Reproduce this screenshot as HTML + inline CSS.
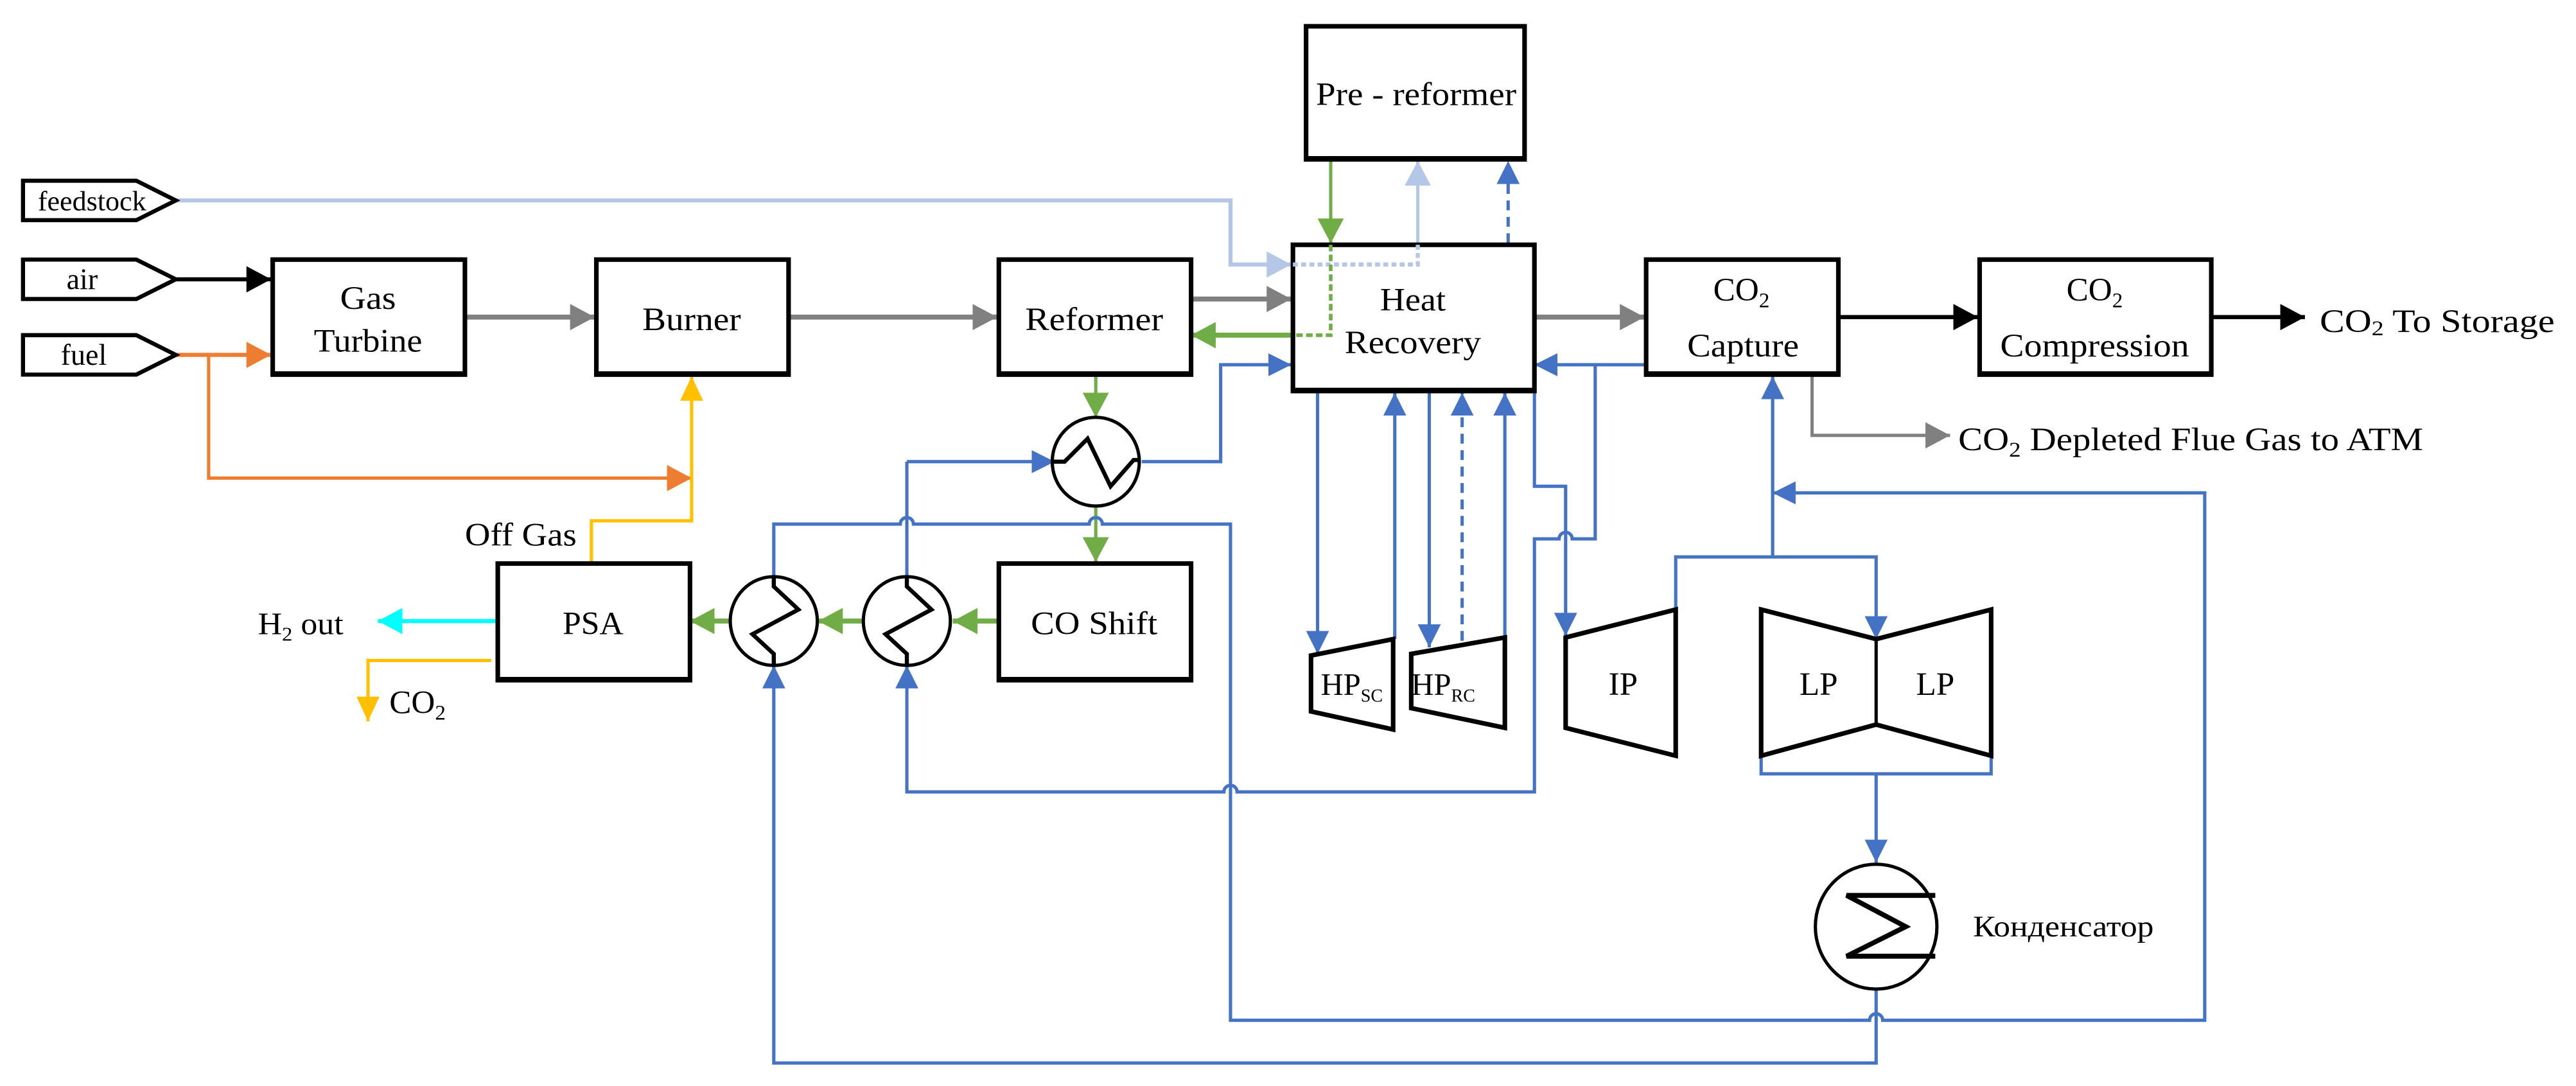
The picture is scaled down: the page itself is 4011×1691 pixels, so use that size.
<!DOCTYPE html>
<html><head><meta charset="utf-8"><style>html,body{margin:0;padding:0;background:#fff}svg{display:block}</style></head>
<body>
<svg width="4011" height="1691" viewBox="0 0 1568 661" preserveAspectRatio="none" xmlns="http://www.w3.org/2000/svg" font-family="'Liberation Serif', serif" font-size="19">
<defs>
<marker id="aB" markerUnits="userSpaceOnUse" markerWidth="14" markerHeight="14" refX="14" refY="7" orient="auto"><path d="M0,0 L14,7 L0,14 z" fill="#4472C4"/></marker>
<marker id="aG" markerUnits="userSpaceOnUse" markerWidth="15" markerHeight="16" refX="15" refY="8" orient="auto"><path d="M0,0 L15,8 L0,16 z" fill="#70AD47"/></marker>
<marker id="aGr" markerUnits="userSpaceOnUse" markerWidth="15" markerHeight="16" refX="15" refY="8" orient="auto"><path d="M0,0 L15,8 L0,16 z" fill="#808080"/></marker>
<marker id="aK" markerUnits="userSpaceOnUse" markerWidth="15" markerHeight="16" refX="15" refY="8" orient="auto"><path d="M0,0 L15,8 L0,16 z" fill="#000"/></marker>
<marker id="aO" markerUnits="userSpaceOnUse" markerWidth="15" markerHeight="16" refX="15" refY="8" orient="auto"><path d="M0,0 L15,8 L0,16 z" fill="#ED7D31"/></marker>
<marker id="aY" markerUnits="userSpaceOnUse" markerWidth="15" markerHeight="14" refX="15" refY="7" orient="auto"><path d="M0,0 L15,7 L0,14 z" fill="#FFC000"/></marker>
<marker id="aL" markerUnits="userSpaceOnUse" markerWidth="15" markerHeight="16" refX="15" refY="8" orient="auto"><path d="M0,0 L15,8 L0,16 z" fill="#B4C7E7"/></marker>
<marker id="aC" markerUnits="userSpaceOnUse" markerWidth="15" markerHeight="16" refX="15" refY="8" orient="auto"><path d="M0,0 L15,8 L0,16 z" fill="#00FFFF"/></marker>
</defs>

<path d="M107,122 H749 V161 H786" fill="none" stroke="#B4C7E7" stroke-width="2.5" marker-end="url(#aL)"/>
<path d="M863,148 V98" fill="none" stroke="#B4C7E7" stroke-width="2" marker-end="url(#aL)"/>

<path d="M107,170 H165" stroke="#000" stroke-width="2.5" marker-end="url(#aK)"/>
<path d="M1119,193 H1204" stroke="#000" stroke-width="2.5" marker-end="url(#aK)"/>
<path d="M1346,193 H1403" stroke="#000" stroke-width="2.5" marker-end="url(#aK)"/>

<path d="M107,216 H165" stroke="#ED7D31" stroke-width="2.5" marker-end="url(#aO)"/>
<path d="M127,216 V291 H421" fill="none" stroke="#ED7D31" stroke-width="2" marker-end="url(#aO)"/>

<path d="M283,193 H362" stroke="#808080" stroke-width="3" marker-end="url(#aGr)"/>
<path d="M480,193 H607" stroke="#808080" stroke-width="3" marker-end="url(#aGr)"/>
<path d="M725,182 H786" stroke="#808080" stroke-width="3" marker-end="url(#aGr)"/>
<path d="M934,193 H1001" stroke="#808080" stroke-width="3" marker-end="url(#aGr)"/>
<path d="M1103,229 V265 H1187" fill="none" stroke="#808080" stroke-width="2" marker-end="url(#aGr)"/>

<path d="M360,342 V317 H421 V229" fill="none" stroke="#FFC000" stroke-width="2" marker-end="url(#aY)"/>
<path d="M299,402 H224 V439" fill="none" stroke="#FFC000" stroke-width="2" marker-end="url(#aY)"/>
<path d="M302,378 H230" stroke="#00FFFF" stroke-width="2.5" marker-end="url(#aC)"/>

<path d="M810,98 V148" stroke="#70AD47" stroke-width="2" marker-end="url(#aG)"/>
<path d="M786,204 H725" stroke="#70AD47" stroke-width="3" marker-end="url(#aG)"/>
<path d="M667,229 V254" stroke="#70AD47" stroke-width="2" marker-end="url(#aG)"/>
<path d="M667,308 V342" stroke="#70AD47" stroke-width="2" marker-end="url(#aG)"/>
<path d="M607,378 H580" stroke="#70AD47" stroke-width="3" marker-end="url(#aG)"/>
<path d="M525,378 H498" stroke="#70AD47" stroke-width="3" marker-end="url(#aG)"/>
<path d="M444,378 H420" stroke="#70AD47" stroke-width="3" marker-end="url(#aG)"/>

<g fill="none" stroke="#4472C4" stroke-width="2">
<path d="M552,281 H642" marker-end="url(#aB)"/>
<path d="M695,281 H743 V222 H786" marker-end="url(#aB)"/>
<path d="M1001,222 H934" marker-end="url(#aB)"/>
<path d="M552,351 V281"/>
<path d="M971,222 V328 H957 a4,4 0 0 0 -8,0 H934 V482 H753 a4,4 0 0 0 -8,0 H552 V405" marker-end="url(#aB)"/>
<path d="M471,351 V319 H548 a4,4 0 0 1 8,0 H663 a4,4 0 0 1 8,0 H749 V621 H1138 a4,4 0 0 1 8,0 H1342 V300 H1079" marker-end="url(#aB)"/>
<path d="M1142,602 V647 H471 V405" marker-end="url(#aB)"/>
<path d="M1079,339 V229" marker-end="url(#aB)"/>
<path d="M1020,371 V339 H1142 V389" marker-end="url(#aB)"/>
<path d="M1072,460 V471 H1212 V460"/>
<path d="M1142,471 V525" marker-end="url(#aB)"/>
<path d="M802,239 V398" marker-end="url(#aB)"/>
<path d="M849,389 V239" marker-end="url(#aB)"/>
<path d="M870,239 V394" marker-end="url(#aB)"/>
<path d="M890,390 V239" stroke-dasharray="6,4" marker-end="url(#aB)"/>
<path d="M916,388 V239" marker-end="url(#aB)"/>
<path d="M934,239 V296 H953 V387" marker-end="url(#aB)"/>
<path d="M918,148 V98" stroke-dasharray="6,4" marker-end="url(#aB)"/>
</g>

<g fill="#fff" stroke="#000" stroke-width="2.5">
<path d="M14,110 H83 L107,122 L83,134 H14 Z"/>
<path d="M14,158 H83 L107,170 L83,182 H14 Z"/>
<path d="M14,204 H83 L107,216 L83,228 H14 Z"/>
</g>

<g fill="#fff" stroke="#000" stroke-width="2.8">
<rect x="166" y="158" width="117" height="70"/>
<rect x="363" y="158" width="117" height="70"/>
<rect x="608" y="158" width="117" height="70"/>
<rect x="795" y="16" width="133" height="81"/>
<rect x="787" y="149" width="147" height="89"/>
<rect x="1002" y="158" width="117" height="70"/>
<rect x="1205" y="158" width="141" height="70"/>
<rect x="303" y="343" width="117" height="71"/>
<rect x="608" y="343" width="117" height="71"/>
</g>
<!-- thicker bottom edges -->
<g stroke="#000" stroke-width="2">
<path d="M166,227 H283 M363,227 H480 M608,227 H725 M795,96 H928 M787,237 H934 M1002,227 H1119 M1205,227 H1346 M303,413 H420 M608,413 H725"/>
</g>
<path d="M787,161 H863 V149" fill="none" stroke="#B4C7E7" stroke-width="2.5" stroke-dasharray="3,2"/>
<path d="M810,149 V204 H788" fill="none" stroke="#70AD47" stroke-width="2.2" stroke-dasharray="4,2"/>

<g fill="#fff" stroke="#000" stroke-width="2">
<ellipse cx="667" cy="281" rx="26.5" ry="27"/>
<ellipse cx="471" cy="378" rx="26.5" ry="27"/>
<ellipse cx="552" cy="378" rx="26.5" ry="27"/>
<ellipse cx="1142" cy="564" rx="37" ry="38"/>
</g>
<g fill="none" stroke="#000" stroke-width="2.5">
<path d="M641,281 H648 L662,267 L676,296 L690,280 H694"/>
<path d="M471,352 V357 L486,371 L458,386 L471,398 V404"/>
<path d="M552,352 V357 L567,371 L539,386 L552,398 V404"/>
<path d="M1178,545 H1124 L1160,564 L1124,582 H1178" stroke-width="3"/>
</g>

<g fill="#fff" stroke="#000" stroke-width="2.8" stroke-linejoin="miter">
<path d="M798,399 L848,389 V444 L798,433 Z"/>
<path d="M859,398 L916,388 V443 L859,431 Z"/>
<path d="M953,388 L1020,371 V460 L953,443 Z"/>
<path d="M1072,371 L1142,389 L1212,371 V460 L1142,441 L1072,460 Z"/>
<path d="M1142,389 V441" stroke-width="2"/>
</g>

<g fill="#000" text-anchor="middle">
<text x="56" y="128" font-size="17" textLength="66" lengthAdjust="spacingAndGlyphs">feedstock</text>
<text x="50" y="176" font-size="18">air</text>
<text x="51" y="222" font-size="18">fuel</text>
<text x="224" y="188" font-size="20" textLength="34" lengthAdjust="spacingAndGlyphs">Gas</text>
<text x="224" y="214" font-size="20" textLength="66" lengthAdjust="spacingAndGlyphs">Turbine</text>
<text x="421" y="201" font-size="20" textLength="60" lengthAdjust="spacingAndGlyphs">Burner</text>
<text x="666" y="201" font-size="20" textLength="84" lengthAdjust="spacingAndGlyphs">Reformer</text>
<text x="862" y="64" font-size="20" textLength="122" lengthAdjust="spacingAndGlyphs">Pre - reformer</text>
<text x="860" y="189" font-size="20" textLength="40" lengthAdjust="spacingAndGlyphs">Heat</text>
<text x="860" y="215" font-size="20" textLength="83" lengthAdjust="spacingAndGlyphs">Recovery</text>
<text x="1060" y="183" font-size="20">CO<tspan font-size="13" dy="4">2</tspan></text>
<text x="1061" y="217" font-size="20" textLength="68" lengthAdjust="spacingAndGlyphs">Capture</text>
<text x="1275" y="183" font-size="20">CO<tspan font-size="13" dy="4">2</tspan></text>
<text x="1275" y="217" font-size="20" textLength="115" lengthAdjust="spacingAndGlyphs">Compression</text>
<text x="361" y="386" font-size="20" textLength="37" lengthAdjust="spacingAndGlyphs">PSA</text>
<text x="666" y="386" font-size="20" textLength="77" lengthAdjust="spacingAndGlyphs">CO Shift</text>
<text x="988" y="423" font-size="20">IP</text>
<text x="1107" y="423" font-size="20">LP</text>
<text x="1178" y="423" font-size="20">LP</text>
</g>
<g fill="#000">
<text x="1412" y="202" font-size="20" textLength="143" lengthAdjust="spacingAndGlyphs">CO<tspan font-size="13" dy="2">2</tspan><tspan dy="-2"> To Storage</tspan></text>
<text x="1192" y="274" font-size="20" textLength="283" lengthAdjust="spacingAndGlyphs">CO<tspan font-size="13" dy="4">2</tspan><tspan dy="-4"> Depleted Flue Gas to ATM</tspan></text>
<text x="283" y="332" font-size="20" textLength="68" lengthAdjust="spacingAndGlyphs">Off Gas</text>
<text x="157" y="386" font-size="19" textLength="52" lengthAdjust="spacingAndGlyphs">H<tspan font-size="12" dy="4">2</tspan><tspan dy="-4"> out</tspan></text>
<text x="237" y="434" font-size="20">CO<tspan font-size="13" dy="4">2</tspan></text>
<text x="804" y="423" font-size="19">HP<tspan font-size="11" dy="4">SC</tspan></text>
<text x="859" y="423" font-size="19">HP<tspan font-size="11" dy="4">RC</tspan></text>
<text x="1201" y="570" font-size="18" textLength="110" lengthAdjust="spacingAndGlyphs">Конденсатор</text>
</g>
</svg>
</body></html>
